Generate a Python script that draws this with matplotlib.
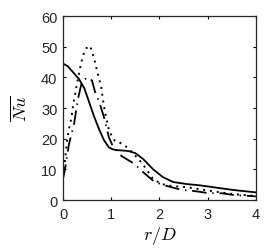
import matplotlib
matplotlib.use("Agg")
import matplotlib.pyplot as plt

plt.rcParams['font.family'] = ['Liberation Sans', 'DejaVu Sans']
plt.rcParams['mathtext.fontset'] = 'cm'

# solid curve
r_solid = [0, 0.1, 0.19, 0.33, 0.44, 0.54, 0.64, 0.75, 0.85, 0.95, 1.02, 1.1, 1.2, 1.35, 1.5, 1.66, 1.87, 2.07, 2.28, 2.57, 2.84, 3.2, 3.52, 3.94, 4.0]
nu_solid = [44.5, 43.6, 42, 39.5, 36.5, 32, 27.4, 23, 19.5, 17.2, 16.6, 16.3, 16.2, 16, 15.3, 13.4, 10, 7.5, 5.9, 5.2, 4.8, 4, 3.3, 2.6, 2.5]

# dotted curve
r_dot = [0, 0.04, 0.08, 0.12, 0.17, 0.21, 0.25, 0.29, 0.35, 0.41, 0.48, 0.56, 0.64, 0.7, 0.74, 0.79, 0.83, 0.87, 0.91, 0.95, 1.02, 1.08, 1.15, 1.35, 1.6, 1.7, 1.87, 2.05, 2.28, 2.57, 3.05, 3.5, 4.0]
nu_dot = [8, 13, 19, 23, 26.5, 31, 34.5, 38, 42.7, 47, 49.5, 50.3, 46.5, 42.5, 40, 37, 32.5, 28.7, 25.8, 23, 20.5, 19.2, 19, 17, 12.7, 10.7, 6.8, 5.2, 4.5, 4.2, 3, 2, 1.3]

# dash-dot curve
r_dd = [0, 0.04, 0.12, 0.23, 0.31, 0.39, 0.5, 0.6, 0.66, 0.75, 0.85, 0.95, 1.04, 1.22, 1.49, 1.66, 1.9, 2.15, 2.46, 2.74, 3.0, 3.3, 3.56, 3.9, 4.0]
nu_dd = [7, 10, 18, 25, 33, 38.5, 40, 39, 35.5, 32, 27, 20.5, 17.3, 14.3, 11.7, 9.1, 5.9, 4.6, 3.3, 2.9, 2.3, 2.2, 1.6, 1.3, 1.2]

fig = plt.figure(figsize=(2.66, 2.51), dpi=100)
ax = fig.add_axes([0.237, 0.199, 0.725, 0.733])

ax.plot(r_solid, nu_solid, color='k', lw=1.3, ls='-')
ax.plot(r_dot, nu_dot, color='k', lw=1.4, ls=(0, (1, 2.5)))
ax.plot(r_dd, nu_dd, color='k', lw=1.3, ls=(0, (8, 3.2, 0.8, 3.2)))

ax.set_xlim(0, 4)
ax.set_ylim(0, 60)
ax.set_xticks([0, 1, 2, 3, 4])
ax.set_yticks([0, 10, 20, 30, 40, 50, 60])
ax.tick_params(direction='in', top=True, right=True, length=2.5, width=0.8,
               labelsize=10.5, labelcolor='#262626')
ax.tick_params(axis='x', pad=5)
ax.tick_params(axis='y', pad=4)
for s in ax.spines.values():
    s.set_linewidth(0.9)
    s.set_color('#262626')

ax.set_xlabel(r'$r/D$', fontsize=13, labelpad=2)
ax.set_ylabel(r'$\overline{Nu}$', fontsize=13, labelpad=8)

fig.savefig("out.png", dpi=100)
